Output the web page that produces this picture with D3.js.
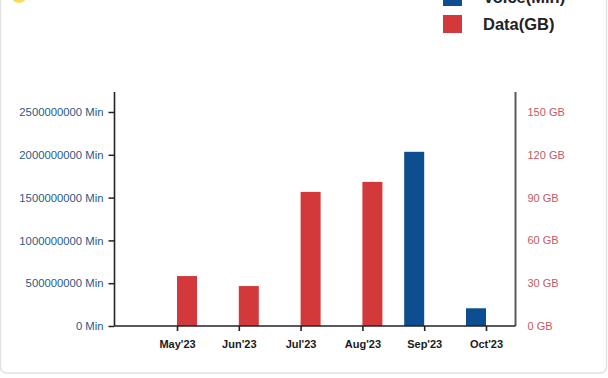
<!DOCTYPE html>
<html>
<head>
<meta charset="utf-8">
<script src="https://cdn.jsdelivr.net/npm/d3@7"></script>
<style>
  html, body { margin: 0; padding: 0; background: #fff; }
  svg { display: block; font-family: "Liberation Sans", Arial, sans-serif; }
</style>
</head>
<body>
<svg id="chart" width="608" height="378"></svg>
<script>
// Monthly usage: voice minutes (left axis) and data volume (right axis)
const months = ["May'23", "Jun'23", "Jul'23", "Aug'23", "Sep'23", "Oct'23"];
const voiceMin = [0, 0, 0, 0, 2035000000, 207000000];
const dataGB = [35, 28, 94, 101, 0, 0];
const voiceTicks = [0, 500000000, 1000000000, 1500000000, 2000000000, 2500000000];
const dataTicks = [0, 30, 60, 90, 120, 150];
const seriesNames = ["Voice(Min)", "Data(GB)"];

const colors = { voice: "#0c4e8f", data: "#d3393a" };

const svg = d3.select("#chart");

// frame
svg.append("rect")
  .attr("x", 0.5).attr("y", -6).attr("width", 606).attr("height", 379)
  .attr("rx", 6)
  .attr("fill", "#fff").attr("stroke", "#e2e2e2").attr("stroke-width", 1.5);

// heading marker peeking at the top edge
svg.append("circle").attr("cx", 19).attr("cy", -5).attr("r", 8).attr("fill", "#f5d33a").attr("opacity", 0.8);

const plot = { left: 114.5, right: 515.5, top: 92, bottom: 326 };

const x = d3.scalePoint().domain(months).range([177, 486]);
const inner = d3.scaleBand().domain(["voice", "data"]).range([-20, 20]).padding(0);
const yVoice = d3.scaleLinear().domain([0, 2500000000]).range([plot.bottom, 112]);
const yData = d3.scaleLinear().domain([0, 150]).range([plot.bottom, 112]);

// bars
const rows = months.map((m, i) => ({ m, voice: voiceMin[i], data: dataGB[i] }));
const g = svg.append("g");
rows.forEach(r => {
  if (r.voice > 0) {
    g.append("rect")
      .attr("x", x(r.m) + inner("voice"))
      .attr("width", inner.bandwidth())
      .attr("y", yVoice(r.voice))
      .attr("height", yVoice(0) - yVoice(r.voice))
      .attr("fill", colors.voice);
  }
  if (r.data > 0) {
    g.append("rect")
      .attr("x", x(r.m) + inner("data"))
      .attr("width", inner.bandwidth())
      .attr("y", yData(r.data))
      .attr("height", yData(0) - yData(r.data))
      .attr("fill", colors.data);
  }
});

// left axis
const leftAxis = svg.append("g")
  .attr("transform", `translate(${plot.left},0)`)
  .call(d3.axisLeft(yVoice).tickValues(voiceTicks).tickSize(6).tickPadding(5)
    .tickFormat(d => d + " Min"));
leftAxis.select(".domain").remove();
leftAxis.selectAll(".tick line").attr("stroke", "#222").attr("stroke-width", 1.5);
leftAxis.selectAll(".tick text").attr("fill", "#2b5a86").style("font-size", "11.3px");
svg.append("line")
  .attr("x1", plot.left).attr("x2", plot.left)
  .attr("y1", plot.top).attr("y2", plot.bottom)
  .attr("stroke", "#222").attr("stroke-width", 1.6);

// right axis
const rightAxis = svg.append("g")
  .attr("transform", `translate(${plot.right},0)`)
  .call(d3.axisRight(yData).tickValues(dataTicks).tickSize(0).tickPadding(12)
    .tickFormat(d => d + " GB"));
rightAxis.select(".domain").remove();
rightAxis.selectAll(".tick text").attr("fill", "#c25a62").style("font-size", "11px");
svg.append("line")
  .attr("x1", plot.right).attr("x2", plot.right)
  .attr("y1", plot.top).attr("y2", plot.bottom)
  .attr("stroke", "#5a5a5a").attr("stroke-width", 2);

// bottom axis
const bottomAxis = svg.append("g")
  .attr("transform", `translate(0,${plot.bottom})`)
  .call(d3.axisBottom(x).tickSize(5).tickPadding(9));
bottomAxis.select(".domain").remove();
bottomAxis.selectAll(".tick line").attr("stroke", "#222").attr("stroke-width", 1.6);
bottomAxis.selectAll(".tick text")
  .attr("fill", "#1a1a1a").style("font-size", "11px").style("font-weight", "bold");
svg.append("line")
  .attr("x1", plot.left).attr("x2", plot.right)
  .attr("y1", plot.bottom).attr("y2", plot.bottom)
  .attr("stroke", "#222").attr("stroke-width", 1.6);

// legend
const legend = svg.append("g").attr("transform", "translate(443,-12)");
seriesNames.forEach((name, i) => {
  const row = legend.append("g").attr("transform", `translate(0,${i * 27})`);
  row.append("rect").attr("width", 19).attr("height", 18)
    .attr("fill", i === 0 ? colors.voice : colors.data);
  row.append("text").attr("x", 40).attr("y", 15)
    .attr("fill", "#222").style("font-size", "16.5px").style("font-weight", "bold")
    .text(name);
});
</script>
</body>
</html>
